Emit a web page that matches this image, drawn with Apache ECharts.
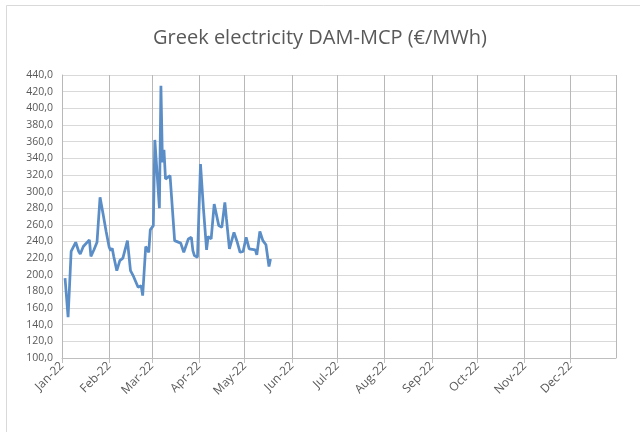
<!DOCTYPE html>
<html>
<head>
<meta charset="utf-8">
<script src="https://cdn.jsdelivr.net/npm/echarts@6/dist/echarts.min.js"></script>
<style>html,body{margin:0;padding:0;background:#fff}#c{width:640px;height:432px}</style>
</head>
<body>
<div id="c"></div>
<script>
const titleText = 'Greek electricity DAM-MCP (€/MWh)';
const monthNames = ['Jan','Feb','Mar','Apr','May','Jun','Jul','Aug','Sep','Oct','Nov','Dec'];
const dates = [
 '2022-01-03','2022-01-05','2022-01-07','2022-01-10','2022-01-12','2022-01-13','2022-01-15','2022-01-19','2022-01-20','2022-01-22',
 '2022-01-24','2022-01-26','2022-01-28','2022-01-30','2022-02-01','2022-02-02','2022-02-03','2022-02-04','2022-02-06','2022-02-08',
 '2022-02-10','2022-02-13','2022-02-15','2022-02-17','2022-02-20','2022-02-22','2022-02-23','2022-02-25','2022-02-27','2022-02-28',
 '2022-03-02','2022-03-03','2022-03-06','2022-03-07','2022-03-08','2022-03-09','2022-03-10','2022-03-13','2022-03-16','2022-03-20',
 '2022-03-22','2022-03-25','2022-03-27','2022-03-28','2022-03-29','2022-03-31','2022-04-02','2022-04-04','2022-04-06','2022-04-07',
 '2022-04-09','2022-04-11','2022-04-14','2022-04-16','2022-04-18','2022-04-19','2022-04-21','2022-04-22','2022-04-24','2022-04-26',
 '2022-04-28','2022-04-30','2022-05-02','2022-05-03','2022-05-04','2022-05-08','2022-05-09','2022-05-11','2022-05-13','2022-05-15',
 '2022-05-17','2022-05-18'
];
const prices = [
 196,149,228,239,228,225,234,242,222,230,
 239,293,273,252,233,229,232,222,205,217,
 220,241,205,198,185,187,175,234,227,254,
 259,362,280,427,335,350,315,319,241,238,
 227,243,245,229,223,221,333,278,230,246,
 243,285,259,257,287,268,231,229,251,240,
 227,228,245,245,231,230,224,252,241,236,
 210,219
];
const yMin = 100, yMax = 440, yStep = 20;

const chart = echarts.init(document.getElementById('c'));
const DAY = 86400000;
chart.setOption({
  backgroundColor: '#fff',
  animation: false,
  title: {
    text: titleText, left: 'center', top: 23,
    textStyle: { fontFamily: 'Open Sans', fontSize: 20, fontWeight: 'normal', color: '#595959' }
  },
  graphic: [{
    type: 'rect', shape: { x: 6.5, y: 5.5, width: 700, height: 500 },
    style: { fill: 'none', stroke: '#d9d9d9', lineWidth: 1 }, silent: true
  }],
  grid: { left: 62, right: 24, top: 75, bottom: 74 },
  xAxis: {
    type: 'time',
    min: +new Date('2022-01-01T00:00:00'),
    max: +new Date('2022-12-31T00:00:00'),
    minInterval: 28 * DAY,
    maxInterval: 31 * DAY,
    splitNumber: 12,
    axisLine: { show: true, lineStyle: { color: '#bfbfbf', width: 1 } },
    axisTick: { show: true, length: 5, lineStyle: { color: '#bfbfbf' } },
    splitLine: { show: true, lineStyle: { color: '#b8b8b8', width: 1 } },
    axisLabel: {
      rotate: 45, margin: 6, fontFamily: 'Open Sans', fontSize: 12, color: '#595959',
      hideOverlap: false,
      formatter: function (v) {
        const d = new Date(v);
        if (d.getFullYear() !== 2022) return '';
        return monthNames[d.getMonth()] + '-22';
      }
    }
  },
  yAxis: {
    type: 'value', min: yMin, max: yMax, interval: yStep,
    axisLine: { show: true, lineStyle: { color: '#b8b8b8' } },
    axisTick: { show: false },
    splitLine: { lineStyle: { color: '#d9d9d9', width: 1 } },
    axisLabel: {
      margin: 9, fontFamily: 'Open Sans', fontSize: 10.5, color: '#595959',
      formatter: v => v.toFixed(1).replace('.', ',')
    }
  },
  series: [{
    type: 'line',
    data: dates.map((d, i) => [d + 'T00:00:00', prices[i]]),
    showSymbol: false,
    lineStyle: { color: '#5b8ec7', width: 2.75 },
    itemStyle: { color: '#5b8ec7' }
  }]
});
</script>
</body>
</html>
